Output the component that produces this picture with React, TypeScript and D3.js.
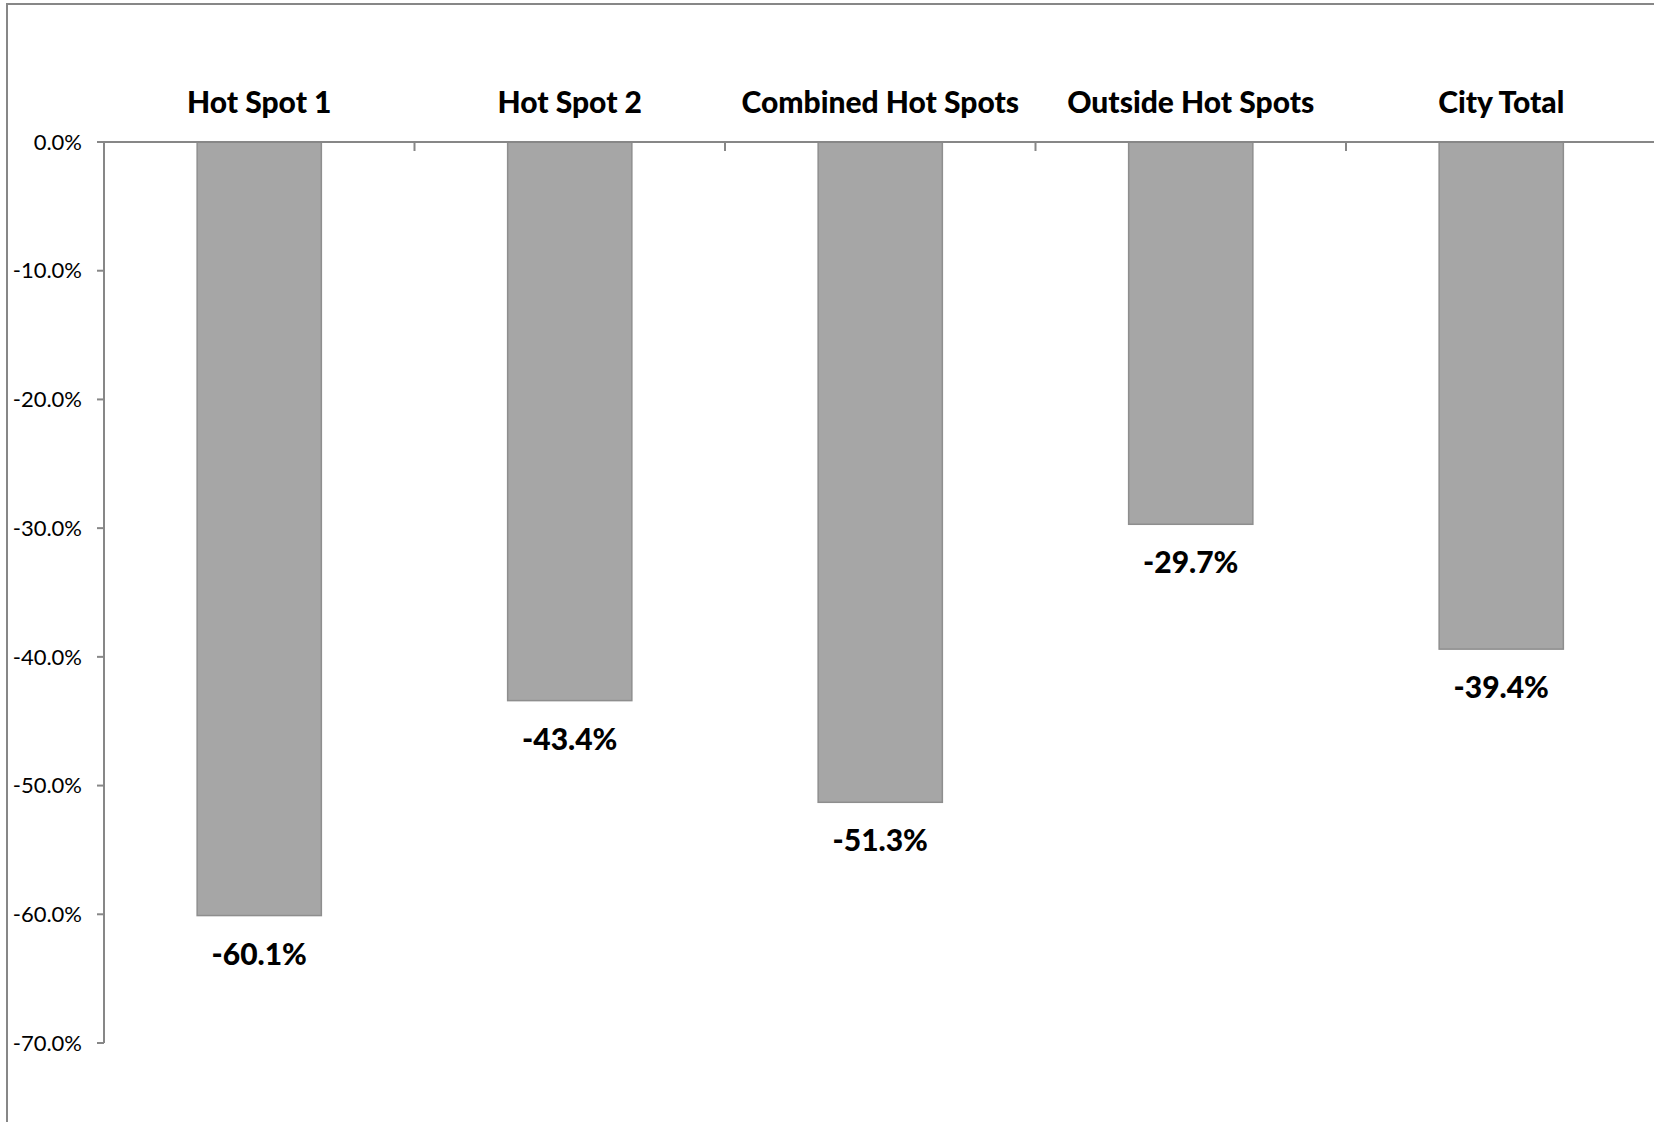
import { range, scaleBand, scaleLinear } from 'd3';
import React from 'react';

const categories = ['Hot Spot 1', 'Hot Spot 2', 'Combined Hot Spots', 'Outside Hot Spots', 'City Total'];
const changes = [-60.1, -43.4, -51.3, -29.7, -39.4];
const yTicks = range(0, -80, -10);

const width = 1654;
const height = 1122;
const axisLeft = 104;
const axisTop = 142;
const axisBottom = 1043;
const step = 310.5;
const font = 'Lato, "Noto Sans", sans-serif';
const axisColor = '#878787';

const App = () => {
	const xScale = scaleBand()
		.domain(categories)
		.range([axisLeft, axisLeft + step * categories.length]);

	const yScale = scaleLinear().domain([-70, 0]).range([axisBottom, axisTop]);

	const barWidth = xScale.bandwidth() * 0.4;

	return (
		<svg
			width={width}
			height={height}
			style={{ position: 'absolute', left: 0, top: 0, background: '#fff' }}
		>
			<rect x={7} y={4} width={width} height={height} fill="#fff" stroke={axisColor} strokeWidth={2} />

			{/* bars */}
			{categories.map((c, i) => (
				<rect
					key={c}
					x={(xScale(c) || 0) + (xScale.bandwidth() - barWidth) / 2}
					y={yScale(0)}
					width={barWidth}
					height={yScale(changes[i]) - yScale(0)}
					fill="#a6a6a6"
					stroke="#8e8e8e"
					strokeWidth={1.5}
				/>
			))}

			{/* y axis */}
			<line x1={axisLeft} x2={axisLeft} y1={axisTop} y2={axisBottom} stroke={axisColor} strokeWidth={2} />
			{yTicks.map(t => (
				<g key={t} transform={`translate(0,${yScale(t)})`}>
					<line x1={axisLeft - 7} x2={axisLeft} stroke={axisColor} strokeWidth={2} />
					<text
						x={82}
						dy=".35em"
						textAnchor="end"
						fontFamily={font}
						fontSize={22}
						fill="#000"
					>
						{t.toFixed(1) + '%'}
					</text>
				</g>
			))}

			{/* x axis at zero, labels above */}
			<line x1={axisLeft} x2={width} y1={yScale(0)} y2={yScale(0)} stroke={axisColor} strokeWidth={2} />
			{categories.slice(1).map(c => (
				<line
					key={c}
					x1={xScale(c)}
					x2={xScale(c)}
					y1={yScale(0)}
					y2={yScale(0) + 9}
					stroke={axisColor}
					strokeWidth={2}
				/>
			))}
			{categories.map(c => (
				<text
					key={c}
					x={(xScale(c) || 0) + xScale.bandwidth() / 2}
					y={113}
					textAnchor="middle"
					fontFamily={font}
					fontWeight={900}
					fontSize={30}
					fill="#000"
				>
					{c}
				</text>
			))}

			{/* value labels */}
			{categories.map((c, i) => (
				<text
					key={c}
					x={(xScale(c) || 0) + xScale.bandwidth() / 2}
					y={yScale(changes[i]) + 49}
					textAnchor="middle"
					fontFamily={font}
					fontWeight={900}
					fontSize={30}
					fill="#000"
				>
					{changes[i].toFixed(1) + '%'}
				</text>
			))}
		</svg>
	);
};

export default App;
